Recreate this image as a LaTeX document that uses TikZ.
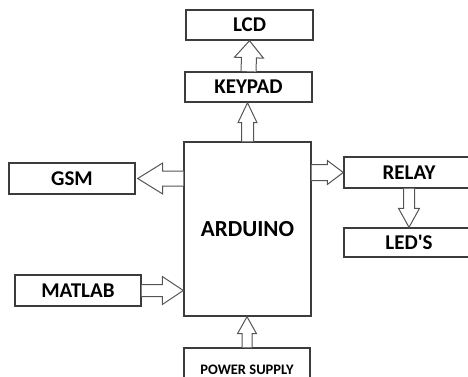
\documentclass[tikz,border=0pt]{standalone}
\usepackage{fontspec}
\setmainfont{Carlito}
\usetikzlibrary{calc}
\definecolor{boxgray}{RGB}{60,60,60}
\definecolor{arrgray}{RGB}{85,85,85}
\tikzset{
  box/.style={draw=boxgray, line width=1.4pt, inner sep=0pt, minimum width=127pt,
    minimum height=30pt, font=\bfseries\fontsize{21}{21}\selectfont, text=black},
  arr/.style={draw=arrgray, line width=1pt, fill=white, line join=miter},
}
% hollow block arrow from #1 to #2: half shaft width #3, half head width #4, head length #5
\newcommand\hollowarrow[5]{%
  \path[arr] let \p1=(#1), \p2=(#2), \n1={atan2(\y2-\y1,\x2-\x1)},
    \n2={veclen(\x2-\x1,\y2-\y1)} in [shift={(\p1)}, rotate=\n1]
    (0,-#3) -- ({\n2-#5},-#3) -- ({\n2-#5},-#4) -- (\n2,0) -- ({\n2-#5},#4)
    -- ({\n2-#5},#3) -- (0,#3);}
\begin{document}
\begin{tikzpicture}[x=1pt,y=-1pt]
\useasboundingbox (0,0) rectangle (468,377);
\clip (0,0) rectangle (468,377);
\node[box] (lcd) at (249.5,25) {LCD};
\node[box] (keypad) at (248.5,87) {KEYPAD};
\node[box, minimum height=174pt, font=\bfseries\fontsize{23}{23}\selectfont] (arduino) at (247.5,229) {ARDUINO};
\node[box, minimum width=126pt, minimum height=31pt] (gsm) at (72,178.5) {GSM};
\node[box, minimum width=130pt, minimum height=31pt] (relay) at (409,172.5) {RELAY};
\node[box, minimum width=130pt, minimum height=29pt] (led) at (409,242.5) {LED\textquotesingle S};
\node[box, minimum width=126pt, minimum height=31pt] (matlab) at (78,290.5) {MATLAB};
\node[box, minimum width=126pt, minimum height=43pt, font=\bfseries\fontsize{14.5}{14.5}\selectfont] (power) at (247,369.5) {POWER SUPPLY};
\coordinate (gsmtip) at ($(gsm.east)+(2,0)$);
\hollowarrow{keypad.north}{lcd.south}{7.5}{14.5}{17}
\hollowarrow{arduino.north}{arduino.north |- keypad.south}{6}{9.5}{20}
\hollowarrow{arduino.west |- gsm.east}{gsmtip}{7.5}{15.5}{25}
\hollowarrow{arduino.east |- relay.west}{relay.west}{8}{12}{16}
\hollowarrow{relay.south}{led.north}{5.5}{10.5}{19}
\hollowarrow{matlab.east}{arduino.west |- matlab.east}{6}{14}{21}
\hollowarrow{power.north}{power.north |- arduino.south}{5}{9.5}{17}
\end{tikzpicture}
\end{document}
